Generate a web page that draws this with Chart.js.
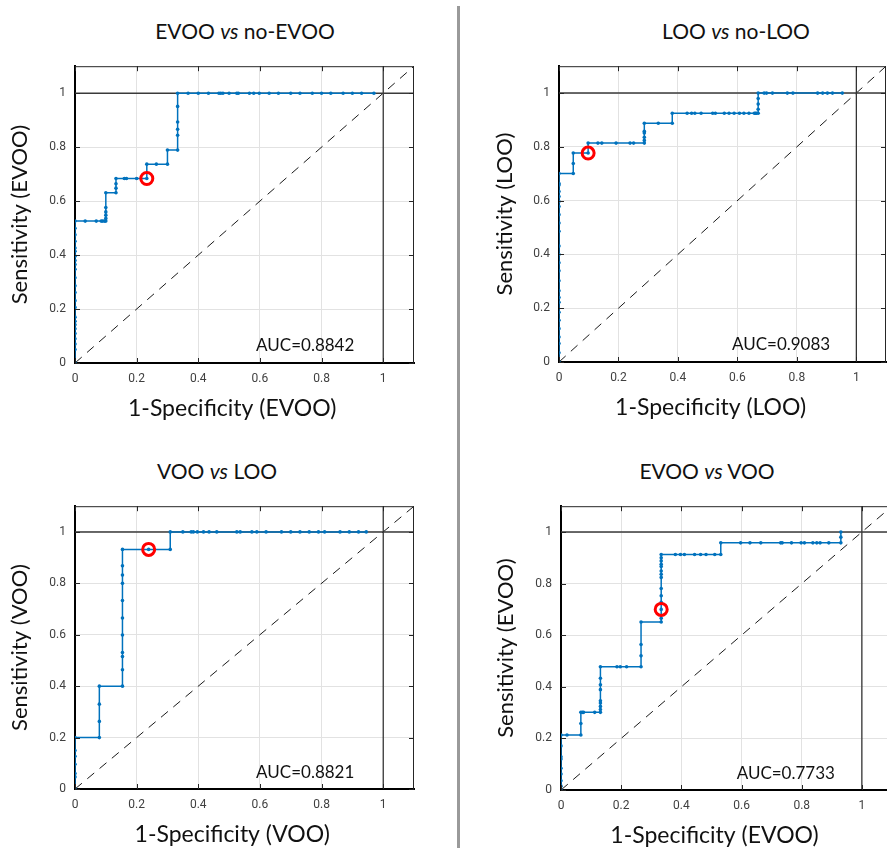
<!DOCTYPE html>
<html>
<head>
<meta charset="utf-8">
<script src="https://cdn.jsdelivr.net/npm/chart.js@4.4.1/dist/chart.umd.min.js"></script>
<style>
html, body { margin: 0; padding: 0; background: #fff; }
body { position: relative; width: 887px; height: 848px; overflow: hidden; font-family: Lato, sans-serif; }
canvas { position: absolute; }
.ttl { position: absolute; font-size: 21px; color: #111; white-space: nowrap; transform: translate(-50%, -50%); }
.divider { position: absolute; left: 457px; top: 6px; width: 3px; height: 842px; background: #9a9a9a; }
</style>
</head>
<body>
<div class="divider"></div>
<script>
// ticks shared by all four panels
const tickValues = [0, 0.2, 0.4, 0.6, 0.8, 1];

// panel texts
const titleA = ['EVOO', 'LOO', 'VOO', 'EVOO'];
const titleB = ['no-EVOO', 'no-LOO', 'LOO', 'VOO'];
const xTitles = ['1-Specificity (EVOO)', '1-Specificity (LOO)', '1-Specificity (VOO)', '1-Specificity (EVOO)'];
const yTitles = ['Sensitivity (EVOO)', 'Sensitivity (LOO)', 'Sensitivity (VOO)', 'Sensitivity (EVOO)'];
const aucValues = ['0.8842', '0.9083', '0.8821', '0.7733'];

// optimal cut-off (red ring) per panel, [1-specificity, sensitivity]
const cutPoints = [[0.233, 0.684], [0.098, 0.777], [0.239, 0.932], [0.333, 0.700]];

// ROC curves, [1-specificity, sensitivity]
const rocEvooNoEvoo = [
  [0,0],[0,0.05],[0,0.07],[0,0.09],[0,0.109],[0,0.127],[0,0.142],[0,0.155],[0,0.17],[0,0.206],[0,0.231],[0,0.261],
  [0,0.286],[0,0.316],[0,0.347],[0,0.365],[0,0.38],[0,0.396],[0,0.414],[0,0.426],[0,0.451],[0,0.475],[0,0.499],[0,0.526],
  [0.033,0.526],[0.069,0.526],[0.085,0.526],[0.09,0.526],[0.096,0.526],[0.1,0.526],
  [0.1,0.536],[0.1,0.548],[0.1,0.56],[0.1,0.576],[0.1,0.631],
  [0.133,0.631],[0.133,0.648],[0.133,0.664],[0.133,0.684],
  [0.16,0.684],[0.167,0.684],[0.2,0.684],[0.233,0.684],[0.233,0.737],
  [0.264,0.737],[0.3,0.737],[0.3,0.789],
  [0.333,0.789],[0.333,0.844],[0.333,0.866],[0.333,0.893],[0.333,0.951],[0.333,1],
  [0.367,1],[0.4,1],[0.433,1],[0.467,1],[0.473,1],[0.48,1],[0.5,1],[0.525,1],[0.53,1],[0.566,1],[0.58,1],[0.598,1],
  [0.63,1],[0.66,1],[0.7,1],[0.73,1],[0.77,1],[0.8,1],[0.83,1],[0.87,1],[0.9,1],[0.93,1],[0.97,1]
];
const rocLooNoLoo = [
  [0,0],[0,0.034],[0,0.069],[0,0.093],[0,0.124],[0,0.155],[0,0.185],[0,0.222],[0,0.24],[0,0.265],[0,0.302],[0,0.339],
  [0,0.369],[0,0.4],[0,0.431],[0,0.486],[0,0.517],[0,0.548],[0,0.578],[0,0.597],[0,0.615],[0,0.634],[0,0.658],[0,0.664],[0,0.701],
  [0.048,0.701],[0.048,0.738],[0.048,0.777],
  [0.098,0.777],[0.098,0.814],
  [0.131,0.814],[0.144,0.814],[0.192,0.814],[0.239,0.814],[0.251,0.814],[0.287,0.814],
  [0.287,0.824],[0.287,0.836],[0.287,0.852],[0.287,0.858],[0.287,0.888],
  [0.334,0.888],[0.381,0.888],[0.381,0.925],
  [0.431,0.925],[0.446,0.925],[0.457,0.925],[0.478,0.925],[0.517,0.925],[0.526,0.925],[0.556,0.925],[0.572,0.925],
  [0.589,0.925],[0.607,0.925],[0.622,0.925],[0.639,0.925],[0.657,0.925],[0.661,0.925],[0.664,0.925],[0.67,0.925],
  [0.67,0.94],[0.67,0.959],[0.67,0.98],[0.67,1],
  [0.69,1],[0.698,1],[0.718,1],[0.768,1],[0.787,1],[0.87,1],[0.887,1],[0.903,1],[0.92,1],[0.953,1]
];
const rocVooLoo = [
  [0,0],[0,0.047],[0,0.06],[0,0.096],[0,0.127],[0,0.15],[0,0.2],
  [0.079,0.2],[0.079,0.263],[0.079,0.33],[0.079,0.4],
  [0.154,0.4],[0.154,0.464],[0.154,0.515],[0.154,0.531],[0.154,0.599],[0.154,0.665],[0.154,0.733],[0.154,0.8],
  [0.154,0.832],[0.154,0.868],[0.154,0.932],
  [0.239,0.932],[0.309,0.932],[0.309,1],
  [0.35,1],[0.377,1],[0.384,1],[0.397,1],[0.417,1],[0.435,1],[0.46,1],[0.525,1],[0.536,1],[0.574,1],[0.59,1],
  [0.62,1],[0.67,1],[0.7,1],[0.73,1],[0.76,1],[0.79,1],[0.81,1],[0.86,1],[0.89,1],[0.92,1],[0.945,1]
];
const rocEvooVoo = [
  [0,0],[0,0.015],[0,0.036],[0,0.062],[0,0.084],[0,0.12],[0,0.129],[0,0.171],[0,0.213],
  [0.02,0.213],[0.066,0.213],[0.066,0.258],[0.066,0.301],
  [0.071,0.301],[0.075,0.301],[0.112,0.301],[0.131,0.301],
  [0.131,0.312],[0.131,0.324],[0.131,0.337],[0.131,0.346],[0.131,0.389],[0.131,0.408],[0.131,0.433],[0.131,0.478],
  [0.186,0.478],[0.197,0.478],[0.218,0.478],[0.266,0.478],
  [0.266,0.52],[0.266,0.564],[0.266,0.651],
  [0.333,0.651],[0.333,0.666],[0.333,0.7],[0.333,0.728],[0.333,0.753],[0.333,0.781],[0.333,0.824],[0.333,0.836],
  [0.333,0.849],[0.333,0.866],[0.333,0.875],[0.333,0.888],[0.333,0.9],[0.333,0.913],
  [0.38,0.913],[0.397,0.913],[0.41,0.913],[0.444,0.913],[0.464,0.913],[0.482,0.913],[0.511,0.913],[0.531,0.913],
  [0.531,0.958],
  [0.597,0.958],[0.628,0.958],[0.664,0.958],[0.73,0.958],[0.735,0.958],[0.766,0.958],[0.798,0.958],[0.809,0.958],
  [0.837,0.958],[0.85,0.958],[0.861,0.958],[0.89,0.958],[0.93,0.958],
  [0.93,0.98],[0.93,1]
];
const rocCurves = [rocEvooNoEvoo, rocLooNoLoo, rocVooLoo, rocEvooVoo];

// where each panel sits on the page
const layout = [
  { left: 0,   top: 50,  w: 440, h: 380, yw: 75, xh: 67, pad: { top: 13, right: 26 }, tx: 245, ty: 30 },
  { left: 485, top: 50,  w: 410, h: 380, yw: 74, xh: 68, pad: { top: 14, right: 6 },  tx: 736, ty: 30 },
  { left: 0,   top: 490, w: 440, h: 358, yw: 75, xh: 59, pad: { top: 13, right: 26 }, tx: 217, ty: 470 },
  { left: 486, top: 490, w: 415, h: 358, yw: 75, xh: 58, pad: { top: 13, right: 5 },  tx: 707, ty: 470 }
];

const toXY = pts => pts.map(p => ({ x: p[0], y: p[1] }));

// box, inward ticks, x title and AUC label
const frame = {
  id: 'frame',
  afterDatasetsDraw(chart, args, opts) {
    const { ctx, chartArea: a, scales: { x, y } } = chart;
    ctx.save();
    ctx.strokeStyle = '#262626';
    ctx.lineWidth = 1;
    ctx.beginPath();
    ctx.moveTo(a.left, a.top + 0.5); ctx.lineTo(a.right, a.top + 0.5);
    ctx.moveTo(a.right - 0.5, a.top); ctx.lineTo(a.right - 0.5, a.bottom);
    tickValues.forEach(v => {
      const px = Math.round(x.getPixelForValue(v)) + 0.5;
      const py = Math.round(y.getPixelForValue(v)) + 0.5;
      ctx.moveTo(px, a.top); ctx.lineTo(px, a.top + 5);
      ctx.moveTo(px, a.bottom); ctx.lineTo(px, a.bottom - 5);
      ctx.moveTo(a.left, py); ctx.lineTo(a.left + 5, py);
      ctx.moveTo(a.right, py); ctx.lineTo(a.right - 5, py);
    });
    ctx.stroke();

    ctx.fillStyle = '#111';
    ctx.textAlign = 'center';
    ctx.textBaseline = 'middle';
    ctx.font = '17px Lato';
    ctx.fillText('AUC=' + opts.auc, x.getPixelForValue(0.747), y.getPixelForValue(0.065));
    ctx.font = '23px Lato';
    ctx.fillText(opts.xTitle, x.getPixelForValue(0.51), a.bottom + 46);
    ctx.restore();
  }
};

function axisOpts(fixSize) {
  return {
    type: 'linear',
    min: 0,
    max: 1.1,
    afterBuildTicks: s => { s.ticks = tickValues.map(v => ({ value: v })); },
    afterFit: fixSize,
    ticks: {
      padding: 9,
      color: '#404040',
      font: { family: 'Roboto', size: 12 },
      callback: v => String(v)
    },
    grid: { color: '#e2e2e2', drawTicks: false },
    border: { color: '#000', width: 2 }
  };
}

layout.forEach((L, i) => {
  const t = document.createElement('div');
  t.className = 'ttl';
  t.style.left = L.tx + 'px';
  t.style.top = L.ty + 'px';
  t.innerHTML = titleA[i] + ' <i>vs</i> ' + titleB[i];
  document.body.appendChild(t);

  const cv = document.createElement('canvas');
  cv.width = L.w;
  cv.height = L.h;
  cv.style.left = L.left + 'px';
  cv.style.top = L.top + 'px';
  document.body.appendChild(cv);

  const xAxis = axisOpts(s => { s.height = L.xh; });
  const yAxis = axisOpts(s => { s.width = L.yw; });
  yAxis.title = {
    display: true,
    text: yTitles[i],
    color: '#111',
    font: { family: 'Lato', size: 22 },
    padding: { top: 7, bottom: 0 }
  };

  new Chart(cv, {
    type: 'scatter',
    data: {
      datasets: [
        {
          data: toXY([cutPoints[i]]),
          showLine: false,
          pointRadius: 6,
          pointBorderWidth: 3,
          pointBorderColor: '#ff0000',
          pointBackgroundColor: 'rgba(0,0,0,0)'
        },
        {
          data: toXY(rocCurves[i]),
          showLine: true,
          borderColor: '#0072BD',
          borderWidth: 1.5,
          pointRadius: 1.8,
          pointBorderWidth: 0,
          pointBackgroundColor: '#0072BD'
        },
        {
          data: [{ x: 0, y: 1 }, { x: 1.1, y: 1 }],
          showLine: true,
          borderColor: '#3a3a3a',
          borderWidth: 1.5,
          pointRadius: 0
        },
        {
          data: [{ x: 1, y: 0 }, { x: 1, y: 1.1 }],
          showLine: true,
          borderColor: '#000',
          borderWidth: 1,
          pointRadius: 0
        },
        {
          data: [{ x: 0, y: 0 }, { x: 1.1, y: 1.1 }],
          showLine: true,
          borderColor: '#1a1a1a',
          borderWidth: 1,
          borderDash: [9, 7],
          pointRadius: 0
        }
      ]
    },
    options: {
      responsive: false,
      animation: false,
      events: [],
      layout: { padding: { top: L.pad.top, right: L.pad.right, left: 0, bottom: 0 } },
      scales: { x: xAxis, y: yAxis },
      plugins: {
        legend: { display: false },
        tooltip: { enabled: false },
        frame: { auc: aucValues[i], xTitle: xTitles[i] }
      }
    },
    plugins: [frame]
  });
});
</script>
</body>
</html>
